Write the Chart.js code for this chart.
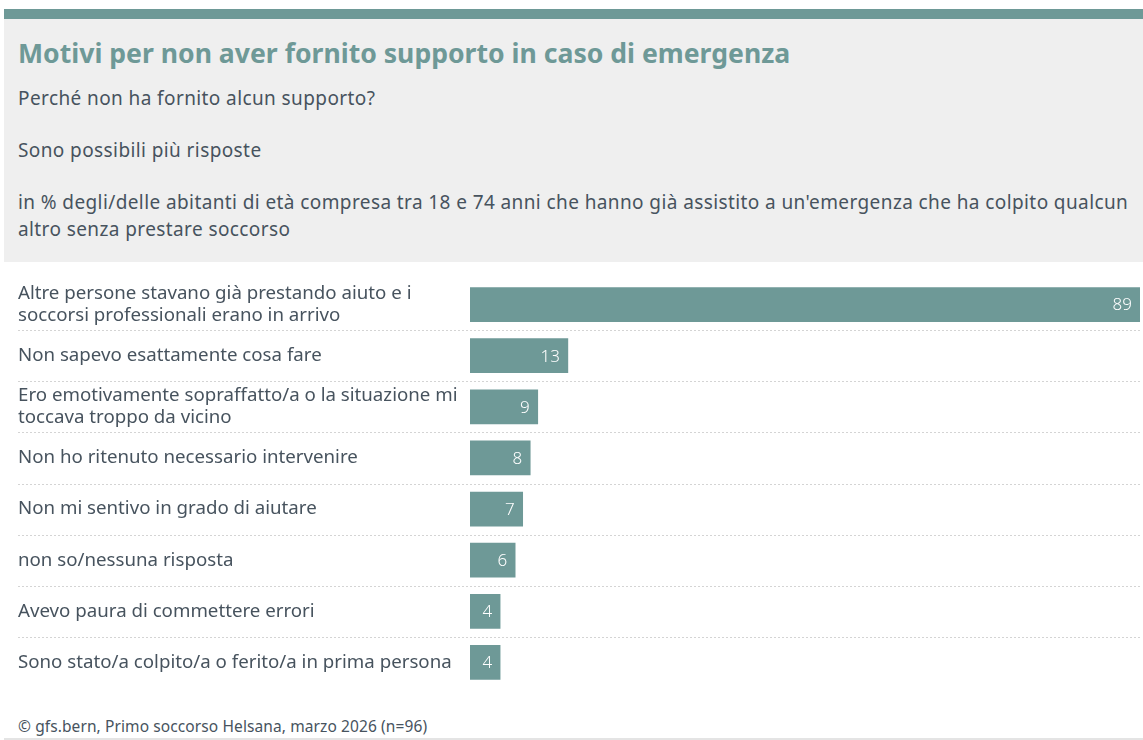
<!DOCTYPE html>
<html lang="it">
<head>
  <meta charset="UTF-8">
  <title>Motivi per non aver fornito supporto</title>
  <script src="https://cdn.jsdelivr.net/npm/chart.js"></script>
  <style>
    html, body { margin: 0; padding: 0; background: #fff; }
    body { width: 1143px; height: 740px; position: relative; overflow: hidden;
           font-family: "Noto Sans", Lato, sans-serif; color: #47535e; }
    .band { position: absolute; left: 4px; top: 9px; width: 1139px; height: 10px; background: #6e9997; }
    .head { position: absolute; left: 4px; top: 19px; width: 1139px; height: 243px; background: #efefef; }
    .head h1 { position: absolute; left: 14px; top: 16px; margin: 0; font-size: 26.6px; font-weight: 700;
               color: #6e9997; white-space: nowrap; }
    .head p { position: absolute; left: 14px; margin: 0; font-size: 19px; letter-spacing: 0.4px;
              line-height: 27px; white-space: nowrap; }
    .chart-wrap { position: absolute; left: 0; top: 268px; width: 1143px; height: 430px; }
    .foot { position: absolute; left: 18px; top: 715px; font-size: 15.5px; letter-spacing: 0.1px; white-space: nowrap; }
    .rule { position: absolute; left: 4px; top: 738px; width: 1139px; height: 2px; background: #e4e4e4; }
  </style>
</head>
<body>
  <div class="band"></div>
  <div class="head">
    <h1>Motivi per non aver fornito supporto in caso di emergenza</h1>
    <p style="top:66px">Perché non ha fornito alcun supporto?</p>
    <p style="top:118px">Sono possibili più risposte</p>
    <p style="top:170px">in % degli/delle abitanti di età compresa tra 18 e 74 anni che hanno già assistito a un'emergenza che ha colpito qualcun<br>altro senza prestare soccorso</p>
  </div>

  <div class="chart-wrap"><canvas id="chart"></canvas></div>

  <div class="foot">© gfs.bern, Primo soccorso Helsana, marzo 2026 (n=96)</div>
  <div class="rule"></div>

  <script>
    // motivi (etichette su più righe dove serve)
    const motivi = [
      ["Altre persone stavano già prestando aiuto e i", "soccorsi professionali erano in arrivo"],
      "Non sapevo esattamente cosa fare",
      ["Ero emotivamente sopraffatto/a o la situazione mi", "toccava troppo da vicino"],
      "Non ho ritenuto necessario intervenire",
      "Non mi sentivo in grado di aiutare",
      "non so/nessuna risposta",
      "Avevo paura di commettere errori",
      "Sono stato/a colpito/a o ferito/a in prima persona"
    ];
    // percentuali
    const percentuali = [89, 13, 9, 8, 7, 6, 4, 4];

    const FONT = '"Noto Sans", Lato, sans-serif';
    const TEAL = '#6e9997';

    // linee tratteggiate tra le righe, su tutta la larghezza
    const separatori = {
      id: 'separatori',
      beforeDatasetsDraw(chart) {
        const y = chart.scales.y;
        const ctx = chart.ctx;
        ctx.save();
        ctx.strokeStyle = '#d4d4d4';
        ctx.lineWidth = 1;
        ctx.setLineDash([2, 2]);
        for (let i = 0; i < motivi.length - 1; i++) {
          const py = Math.round((y.getPixelForValue(i) + y.getPixelForValue(i + 1)) / 2) + 0.5;
          ctx.beginPath();
          ctx.moveTo(18, py);
          ctx.lineTo(chart.chartArea.right + 1, py);
          ctx.stroke();
        }
        ctx.restore();
      }
    };

    // valori in bianco dentro la barra, allineati a destra
    const valori = {
      id: 'valori',
      afterDatasetsDraw(chart) {
        const ctx = chart.ctx;
        const meta = chart.getDatasetMeta(0);
        ctx.save();
        ctx.fillStyle = '#fff';
        ctx.font = '300 17px ' + FONT;
        ctx.textAlign = 'right';
        ctx.textBaseline = 'middle';
        meta.data.forEach((bar, i) => {
          ctx.fillText(String(percentuali[i]), bar.x - 8, bar.y + 1);
        });
        ctx.restore();
      }
    };

    new Chart(document.getElementById('chart'), {
      type: 'bar',
      data: {
        labels: motivi,
        datasets: [{
          data: percentuali,
          backgroundColor: TEAL,
          borderWidth: 0,
          barThickness: 34
        }]
      },
      options: {
        indexAxis: 'y',
        responsive: true,
        maintainAspectRatio: false,
        animation: false,
        layout: { padding: { left: 18, right: 3, top: 11, bottom: 10 } },
        plugins: { legend: { display: false }, tooltip: { enabled: false } },
        scales: {
          x: { display: false, min: 0, max: 89 },
          y: {
            grid: { display: false },
            border: { display: false },
            ticks: {
              crossAlign: 'far',
              padding: 0,
              color: '#47535e',
              font: { family: FONT, size: 18.7, lineHeight: 1.2 }
            },
            afterFit(scale) {
              scale.width = 452;
              // niente spazio extra per le etichette su più righe
              scale.paddingTop = 0;
              scale.paddingBottom = 0;
            }
          }
        }
      },
      plugins: [separatori, valori]
    });
  </script>
</body>
</html>
